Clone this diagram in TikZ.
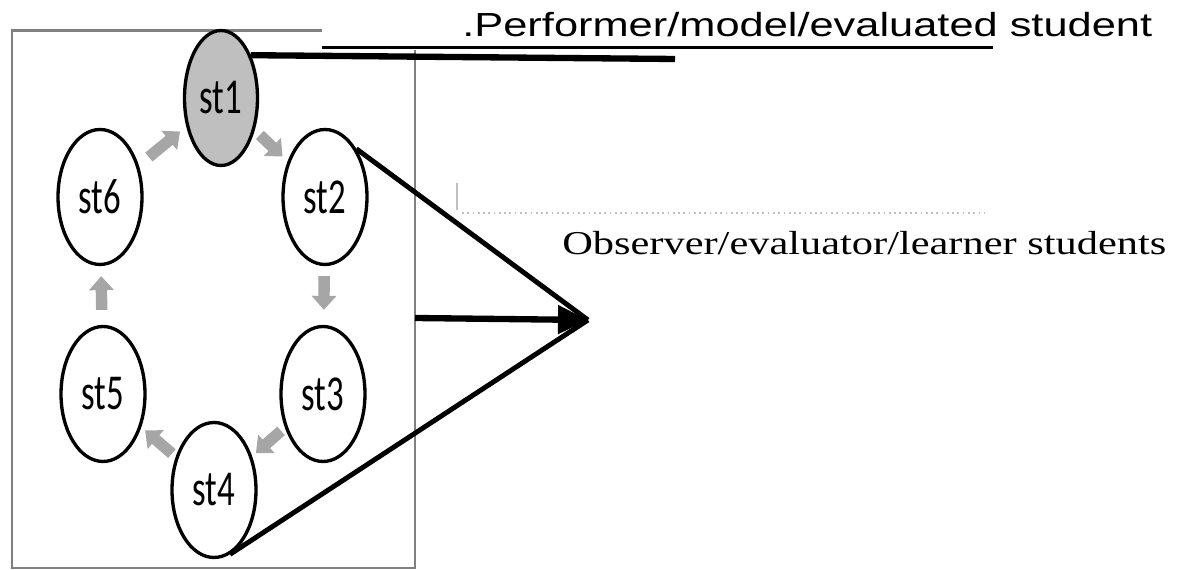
\documentclass[tikz,border=0pt]{standalone}
\usepackage{fontspec}
\usepackage{graphicx}
\usepackage{tikz}
\usetikzlibrary{arrows.meta,shapes.geometric}
\newfontfamily\labelfont{Carlito}
\newfontfamily\headfont{Liberation Sans}
\newfontfamily\notefont{Liberation Serif}
\newcommand{\stname}[1]{\scalebox{0.9}[1.3]{#1}}

\begin{document}
\begin{tikzpicture}[x=0.02cm,y=-0.02cm,
    student/.style={ellipse,draw=black,line width=1.9pt,minimum width=1.68cm,minimum height=2.7cm,
        inner sep=0pt,font=\labelfont\fontsize{22}{22}\selectfont},
    flow/.style={draw=black!35,line width=6.5pt,-{Triangle[width=0.48cm,length=0.28cm]},
        shorten <=0.1cm,shorten >=0.1cm},
    link/.style={draw=black,line width=2.8pt}]
    \useasboundingbox (0,0) rectangle (1181,570);
    % frame
    \draw[black!50,line width=1.7pt] (322,31) -- (12,31) -- (12,568) -- (415,568) -- (415,50);
    \coordinate (frameE) at (415,318);
    % students
    \node[student,fill=black!25,minimum width=1.46cm] (st1) at (221,98) {\stname{st1}};
    \node[student] (st2) at (325,197) {\stname{st2}};
    \node[student] (st3) at (323,394) {\stname{st3}};
    \node[student] (st4) at (214,490) {\stname{st4}};
    \node[student] (st5) at (103,394) {\stname{st5}};
    \node[student] (st6) at (100,197) {\stname{st6}};
    \draw[flow,shorten <=0.14cm,shorten >=0.14cm] (st1) -- (st2);
    \draw[flow,shorten <=0.2cm,shorten >=0.3cm] (st2) -- (st3);
    \draw[flow] (st3) -- (st4);
    \draw[flow] (st4) -- (st5);
    \draw[flow,shorten <=0.3cm,shorten >=0.2cm] (st5) -- (st6);
    \draw[flow,shorten <=0.26cm,shorten >=0.16cm] (st6) -- (st1);
    % performer
    \node[anchor=base west,inner sep=0pt,font=\headfont\fontsize{19}{20}\selectfont] (perf) at (462,37)
        {\scalebox{1.3}[1]{.Performer/model/evaluated student}};
    \coordinate (perfEnd) at (675,59);
    \draw[line width=1.7pt] (322,48) -- (993,48);
    \draw[link,line width=3.6pt] (st1.55) -- (perfEnd);
    % observers
    \draw[black!25,line width=0.8pt] (457,183) -- (457,210);
    \draw[black!25,line width=1pt,dotted] (462,213) -- (985,213);
    \node[anchor=base west,inner sep=0pt,font=\notefont\fontsize{19}{20}\selectfont] (obs) at (562,255)
        {\scalebox{1.27}[1]{Observer/evaluator/learner students}};
    \coordinate (tip) at (588,320);
    \draw[link] (st2.57) -- (tip);
    \draw[link] (st4.284) -- (tip);
    \draw[link,line width=3.6pt,-{Triangle[length=0.6cm,width=0.55cm]}] (frameE) -- (tip);
\end{tikzpicture}
\end{document}
